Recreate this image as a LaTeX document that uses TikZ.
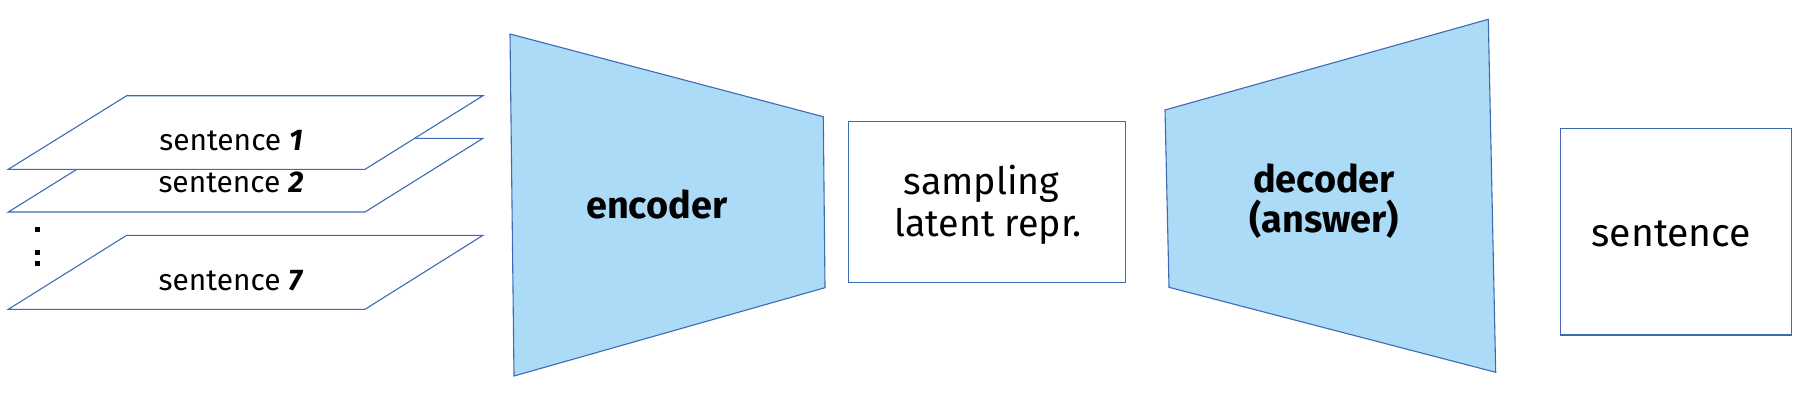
\documentclass[tikz,border=0pt]{standalone}
\usepackage{fontspec}
\setmainfont{Fira Sans}
\definecolor{edge}{RGB}{62,106,180}
\definecolor{blockfill}{RGB}{171,219,246}
\begin{document}
\begin{tikzpicture}[x=1bp,y=-1bp,
  outline/.style={draw=edge, line width=1.1bp, line join=miter},
  sheet/.style={outline, fill=white},
  block/.style={outline, fill=blockfill},
  dotmark/.style={fill=black, minimum size=4.5bp, inner sep=0pt, draw=none, rectangle},
  small/.style={font=\fontsize{30}{36}\selectfont, inner sep=0pt, anchor=base},
  medium/.style={font=\fontsize{37.8}{44}\selectfont, inner sep=0pt, anchor=base},
  big/.style={font=\fontsize{39.3}{46}\selectfont, inner sep=0pt, anchor=base},
  boldlbl/.style={font=\fontsize{38}{44}\selectfont\bfseries, inner sep=0pt, anchor=base}]
\useasboundingbox (0,0) rectangle (1817,405);

% sentence sheets
\path[sheet] (126.7,235.3) -- (483,235.3) -- (365,309.3) -- (8.3,309.3) -- cycle;
\path[sheet] (126.7,138.3) -- (483,138.3) -- (365,212) -- (8.3,212) -- cycle;
\path[sheet] (126.7,95.7) -- (483,95.7) -- (365,169.3) -- (8.3,169.3) -- cycle;
\node[small] (s1) at (231,150) {sentence \textbf{\itshape 1}};
\node[small] (s2) at (231,192.7) {sentence \textbf{\itshape 2}};
\node[small] (s7) at (231,290) {sentence \textbf{\itshape 7}};
\node[dotmark] (dotA) at (37.3,229.7) {};
\node[dotmark] (dotB) at (37.6,252.3) {};
\node[dotmark] (dotC) at (37.6,263.7) {};

% encoder
\path[block] (510,34) -- (823.3,116.7) -- (825,287.7) -- (514,376) -- cycle;
\node[boldlbl] (enc) at (656.7,218.3) {encoder};

% sampling box
\path[outline] (848.3,121.7) rectangle (1125.7,282.3);
\node[medium] (samp1) at (981.7,194) {sampling};
\node[medium] (samp2) at (988,236.7) {latent repr.};

% decoder
\path[block] (1165,110) -- (1488.3,19.3) -- (1495.7,372.3) -- (1169,287.3) -- cycle;
\node[boldlbl] (dec1) at (1324,192.7) {decoder};
\node[boldlbl] (dec2) at (1324,232.7) {(answer)};

% output sentence
\path[outline] (1560.7,128.3) rectangle (1791.3,335);
\node[big] (out) at (1671.3,246.7) {sentence};
\end{tikzpicture}
\end{document}
